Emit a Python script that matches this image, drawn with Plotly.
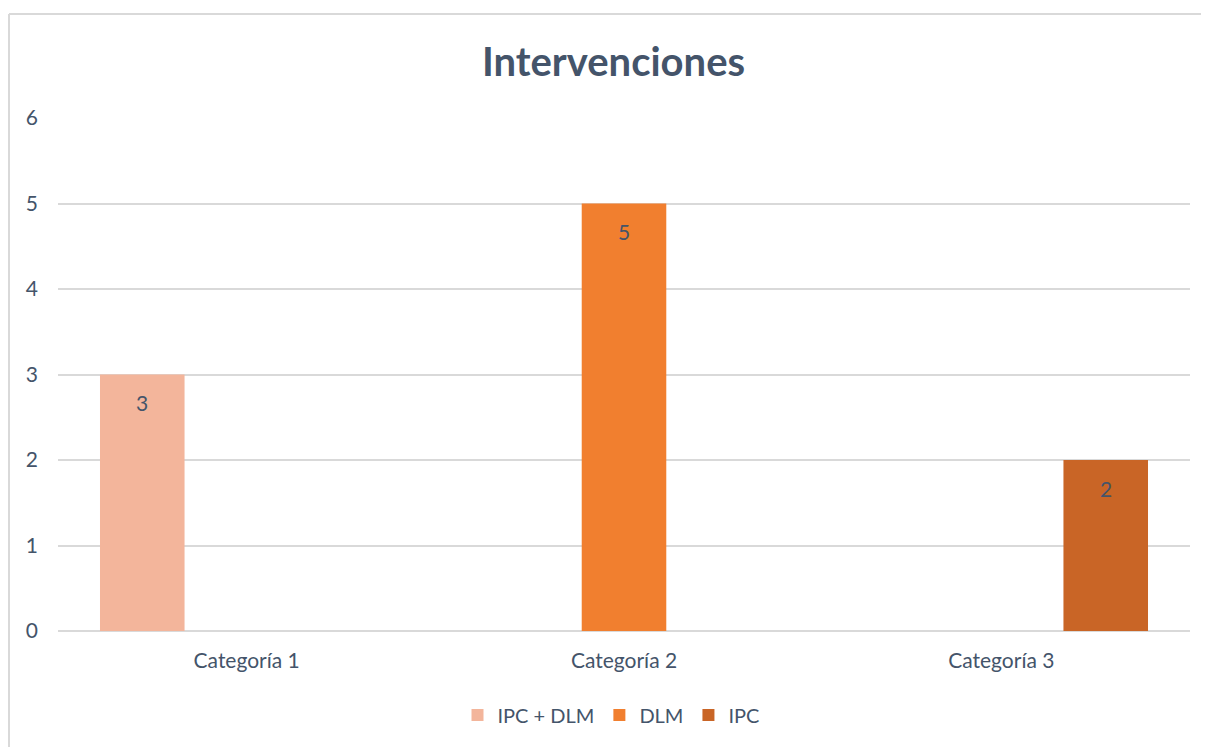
import plotly.graph_objects as go

categories = ["Categoría 1", "Categoría 2", "Categoría 3"]
series_names = ["IPC + DLM", "DLM", "IPC"]
ipc_dlm = [3, None, None]
dlm = [None, 5, None]
ipc = [None, None, 2]
series_values = [ipc_dlm, dlm, ipc]
colors = ["#F3B59B", "#F17F2F", "#C96526"]
text_color = "#44546A"
font_family = "Lato, Open Sans, sans-serif"

# page offset (browser body margin)
O = 8
W, H = 1209 - O, 747 - O
L, R, T = 58 - O, 19, 118 - O
B = H - (631 - O)
pw, ph = W - L - R, H - T - B
BARGAP, GROUPGAP = 0.17, 0.19


def px_x(px):
    return (px - O - L) / pw


def px_y(py):
    return (H - B - (py - O)) / ph


fig = go.Figure()
n = len(series_names)
slot = pw / len(categories) * (1 - BARGAP) / n
annotations = []
for i, (name, vals, col) in enumerate(zip(series_names, series_values, colors)):
    fig.add_trace(go.Bar(
        x=categories, y=vals, name=name,
        marker=dict(color=col, line=dict(width=0)),
    ))
    for c, v in zip(categories, vals):
        if v is None:
            continue
        annotations.append(dict(
            x=c, y=v, xref="x", yref="y", text=str(v), showarrow=False,
            xshift=(i - (n - 1) / 2) * slot, yshift=-28, yanchor="middle",
            font=dict(size=21, color=text_color, family=font_family),
        ))

fig.update_layout(
    width=W, height=H,
    margin=dict(l=L, r=R, t=T, b=B),
    paper_bgcolor="white", plot_bgcolor="white",
    barmode="group", bargap=BARGAP, bargroupgap=GROUPGAP,
    font=dict(family=font_family, color=text_color, size=20),
    title=dict(text="<b>Intervenciones</b>", x=(613.5 - O) / W, xanchor="center",
               xref="container",
               y=1 - (62 - O) / H, yanchor="middle", yref="container",
               font=dict(size=40, color=text_color, family=font_family)),
    legend=dict(orientation="h", x=px_x(611), xanchor="center",
                y=px_y(715), yanchor="middle",
                font=dict(size=20, color=text_color), itemwidth=30,
                traceorder="normal"),
    annotations=annotations,
    showlegend=True,
)
fig.update_xaxes(showgrid=False, showline=False, ticks="",
                 tickfont=dict(size=21, color=text_color),
                 ticklabelstandoff=15)
fig.update_yaxes(range=[0, 6], dtick=1, showgrid=True, gridcolor="#D9D9D9",
                 gridwidth=1.5, zeroline=True, zerolinecolor="#D9D9D9",
                 zerolinewidth=1.5, showline=False, ticks="",
                 tickfont=dict(size=21, color=text_color),
                 ticklabelstandoff=19)

# chart-area border (left and top edges visible in the crop)
border = dict(color="#D9D9D9", width=2)
fig.add_shape(type="line", xref="paper", yref="paper",
              x0=px_x(9), x1=px_x(9), y0=px_y(780), y1=px_y(14),
              line=border, layer="below")
fig.add_shape(type="line", xref="paper", yref="paper",
              x0=px_x(9), x1=px_x(1260), y0=px_y(14), y1=px_y(14),
              line=border, layer="below")

fig.write_html("out.html")
